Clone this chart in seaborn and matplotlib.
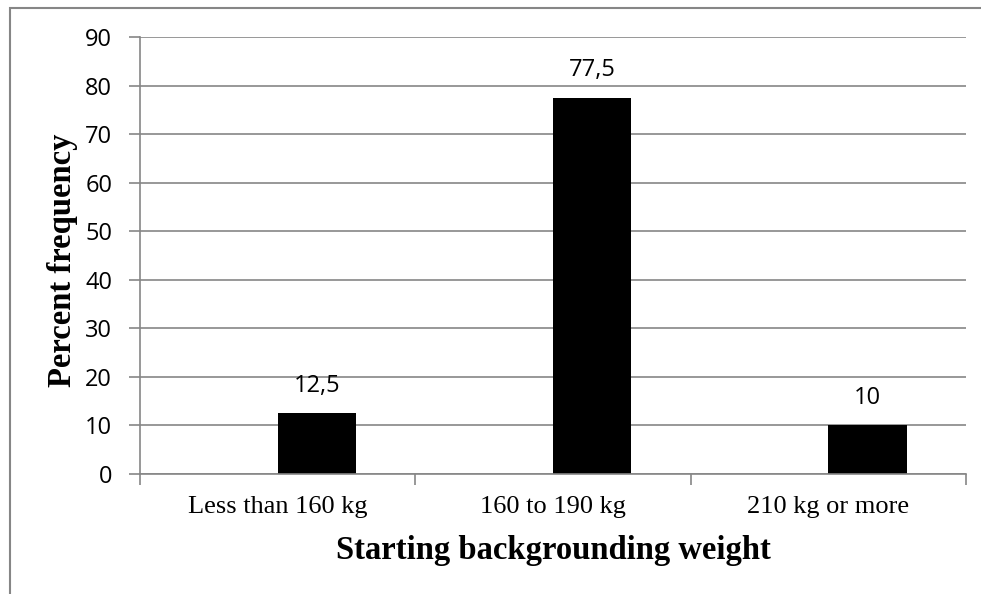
import matplotlib.pyplot as plt
import seaborn as sns
import pandas as pd
from matplotlib.patches import Rectangle

# Data
categories = ['Less than 160 kg', '160 to 190 kg', '210 kg or more']
percent = [12.5, 77.5, 10]
# empty companion series (Excel leaves a gap slot left of each bar)
blank = [0, 0, 0]
y_ticks = [0, 10, 20, 30, 40, 50, 60, 70, 80, 90]

df = pd.DataFrame({
    'category': categories * 2,
    'value': blank + percent,
    'series': ['blank'] * 3 + ['percent'] * 3,
})

sns.set_theme(style='white')
plt.rcParams['font.family'] = ['Open Sans', 'DejaVu Sans']

fig = plt.figure(figsize=(9.81, 5.94), dpi=100)
ax = fig.add_axes([140 / 981, 1 - 474 / 594, 826 / 981, 437 / 594])

sns.barplot(data=df, x='category', y='value', hue='series',
            hue_order=['blank', 'percent'], palette=['white', 'black'],
            width=0.57, saturation=1, linewidth=0, legend=False, ax=ax)

ax.set_ylim(0, 90)
ax.set_xlim(-0.5, 2.5)
ax.set_yticks(y_ticks)
ax.yaxis.grid(True, color='#868686', linewidth=1.2)
ax.set_axisbelow(True)

# value labels with comma decimals
labels = [f'{v:g}'.replace('.', ',') for v in percent]
ax.bar_label(ax.containers[1], labels=labels, padding=11, fontsize=17,
             color='black')

for side in ['top', 'right']:
    ax.spines[side].set_visible(False)
for side in ['left', 'bottom']:
    ax.spines[side].set_color('#868686')
    ax.spines[side].set_linewidth(1.2)

ax.tick_params(axis='y', which='both', left=True, length=8, width=1.2,
               color='#868686', labelsize=17, pad=12, labelcolor='black')
ax.set_xticks([0, 1, 2])
ax.set_xticklabels(categories, fontfamily='Liberation Serif', fontsize=19)
ax.tick_params(axis='x', which='major', bottom=False, length=0, pad=16,
               labelcolor='black')
# category separators on x axis
ax.set_xticks([-0.5, 0.5, 1.5, 2.5], minor=True)
ax.tick_params(axis='x', which='minor', bottom=True, length=8, width=1.2,
               color='#868686')

ax.set_ylabel('Percent frequency', fontfamily='Liberation Serif',
              fontweight='bold', fontsize=23.5, color='black')
ax.set_xlabel('Starting backgrounding weight', fontfamily='Liberation Serif',
              fontweight='bold', fontsize=23.5, color='black')
ax.yaxis.set_label_coords(63 / 981, 1 - 260 / 594, transform=fig.transFigure)
ax.xaxis.set_label_coords(553 / 981, 1 - 550 / 594, transform=fig.transFigure)
ax.yaxis.label.set_va('center')
ax.xaxis.label.set_va('center')

# outer chart frame (cropped)
fig.patches.append(Rectangle((10 / 981, -0.05), 1.2, 1 - 8 / 594 + 0.05,
                             transform=fig.transFigure, fill=False,
                             edgecolor='#868686', linewidth=1.5))

fig.savefig('out.png', dpi=100)
